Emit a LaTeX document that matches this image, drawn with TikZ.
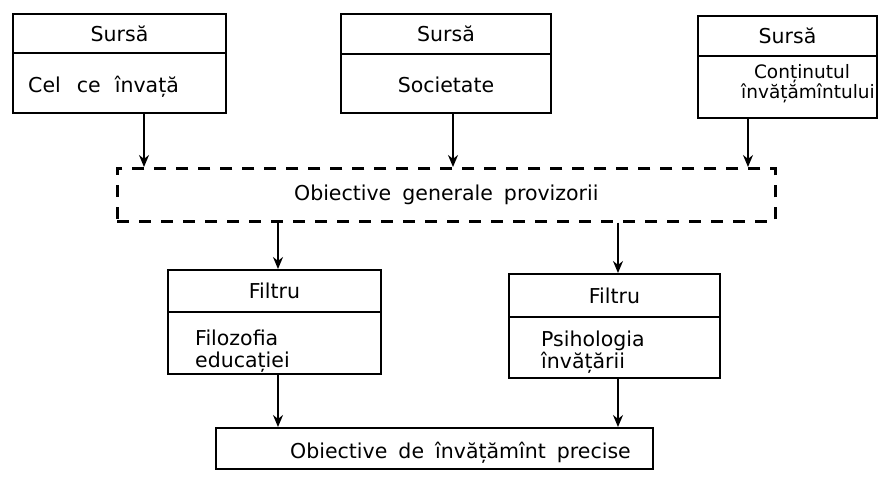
\documentclass[tikz,border=0pt]{standalone}
\usepackage{fontspec}
\setmainfont{DejaVu Sans}[WordSpace=1.7]
\usetikzlibrary{arrows.meta}
\begin{document}
\begin{tikzpicture}[x=1pt,y=-1pt,
  box/.style={draw,line width=2pt,inner sep=0pt,anchor=north west,font=\fontsize{20.5}{24}\selectfont},
  dbox/.style={draw,line width=2.6pt,dash pattern=on 12pt off 10pt,inner sep=0pt,anchor=north west,font=\fontsize{20.5}{24}\selectfont},
  txt/.style={inner sep=0pt,font=\fontsize{20.5}{22}\selectfont},
  arr/.style={line width=1.4pt,-{Stealth[length=12pt,width=10pt]}}]
\useasboundingbox (0,0) rectangle (879,485);
% source boxes
\node[box,minimum width=213pt,minimum height=39pt] (s1h) at (12,13) {Sursă};
\node[box,minimum width=213pt,minimum height=60pt] (s1b) at (12,52) {};
\node[txt,anchor=base west] (s1t) at (28,92) {Cel\hspace{5pt} ce\hspace{3pt} învață};
\node[box,minimum width=210pt,minimum height=40pt] (s2h) at (340,13) {Sursă};
\node[box,minimum width=210pt,minimum height=59pt] (s2b) at (340,53) {};
\node[txt,anchor=base] (s2t) at (446,92) {Societate};
\node[box,minimum width=179pt,minimum height=40pt] (s3h) at (697,15) {Sursă};
\node[box,minimum width=179pt,minimum height=62pt] (s3b) at (697,55) {};
\node[txt,anchor=base,font=\fontsize{18.5}{20}\selectfont] (s3t1) at (802,78) {Conținutul};
\node[txt,anchor=base,font=\fontsize{18.5}{20}\selectfont] (s3t2) at (808,98) {învățămîntului};
% provisional objectives
\node[dbox,minimum width=658pt,minimum height=53pt] (gen) at (116,167) {Obiective generale provizorii};
% filters
\node[box,minimum width=213pt,minimum height=42pt] (f1h) at (167,269) {Filtru};
\node[box,minimum width=213pt,minimum height=62pt] (f1b) at (167,311) {};
\node[txt,anchor=base west,align=left] (f1t) at (195,367) {Filozofia\\educației};
\node[box,minimum width=211pt,minimum height=43pt] (f2h) at (508,273) {Filtru};
\node[box,minimum width=211pt,minimum height=61pt] (f2b) at (508,316) {};
\node[txt,anchor=base west,align=left] (f2t) at (541,368) {Psihologia\\învățării};
% result
\node[box,minimum width=437pt,minimum height=41pt] (res) at (215,427) {};
\node[txt,anchor=base west] (rest) at (290,458) {Obiective de învățămînt precise};
% connectors
\coordinate (c1) at (144,0);
\coordinate (c2) at (453,0);
\coordinate (c3) at (748,0);
\coordinate (c4) at (278,0);
\coordinate (c5) at (618,0);
\draw[arr] (s1b.south -| c1) -- (gen.north -| c1);
\draw[arr] (s2b.south -| c2) -- (gen.north -| c2);
\draw[arr] (s3b.south -| c3) -- (gen.north -| c3);
\draw[arr] (gen.south -| c4) -- (f1h.north -| c4);
\draw[arr] (gen.south -| c5) -- (f2h.north -| c5);
\draw[arr] (f1b.south -| c4) -- (res.north -| c4);
\draw[arr] (f2b.south -| c5) -- (res.north -| c5);
\end{tikzpicture}
\end{document}
